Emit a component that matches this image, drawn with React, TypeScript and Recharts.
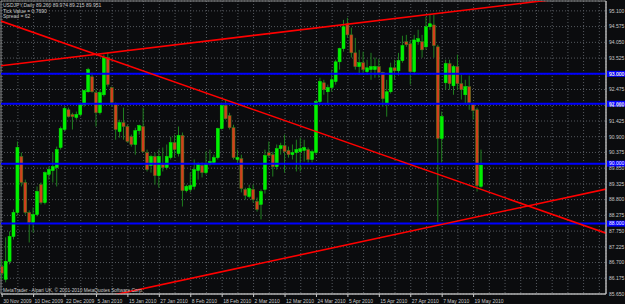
import React from "react";
import {
  ComposedChart, Bar, XAxis, YAxis, CartesianGrid, ReferenceLine, ReferenceArea,
} from "recharts";

// USDJPY daily, one entry per bar
const opens = [
  86.57, 86.14, 86.74, 87.57, 88.37, 90.24, 89.37, 88.37, 88.04, 88.30,
  89.30, 88.70, 89.64, 89.77, 89.87, 90.54, 91.14, 91.80, 91.64, 91.54,
  91.64, 91.97, 92.40, 92.90, 92.37, 91.70, 92.30, 93.54, 92.54, 91.97,
  91.07, 91.37, 91.24, 90.90, 90.64, 91.10, 91.24, 90.37, 89.94, 90.24,
  89.60, 89.97, 89.87, 90.20, 90.70, 90.34, 90.94, 89.10, 89.14, 89.24,
  89.77, 89.94, 89.70, 90.00, 90.04, 90.20, 91.17, 91.94, 91.60, 91.20,
  90.14, 90.17, 89.14, 88.90, 89.14, 88.74, 88.64, 89.14, 90.37, 90.30,
  89.90, 90.50, 90.60, 90.44, 90.30, 90.37, 90.40, 90.44, 90.47, 90.14,
  90.37, 92.07, 92.70, 92.40, 92.54, 92.74, 93.40, 93.84, 94.67, 94.30,
  93.70, 93.24, 93.37, 93.07, 93.14, 93.14, 93.24, 93.04, 92.00, 92.40,
  93.20, 93.10, 93.44, 94.07, 94.00, 93.07, 94.07, 94.07, 93.90, 94.57,
  94.63, 93.90, 90.84, 92.70, 93.34, 92.60, 93.24, 92.67, 92.30, 92.57,
  91.97, 91.80, 89.24,
];
const highs = [
  86.80, 87.54, 87.74, 88.47, 90.74, 90.37, 89.47, 88.44, 88.54, 89.24,
  89.37, 89.74, 89.90, 90.37, 90.57, 91.24, 91.90, 91.87, 91.70, 91.74,
  92.04, 92.47, 93.20, 93.04, 92.47, 92.47, 93.64, 93.70, 92.57, 92.04,
  91.47, 91.87, 91.30, 90.97, 91.20, 91.30, 91.87, 90.47, 90.30, 90.37,
  90.47, 90.54, 90.64, 90.90, 90.97, 91.24, 91.04, 89.30, 89.70, 90.14,
  90.04, 90.04, 90.40, 90.47, 90.30, 91.20, 92.04, 92.14, 91.70, 91.30,
  90.47, 90.30, 89.20, 89.30, 89.30, 88.87, 89.14, 90.47, 90.74, 90.40,
  90.64, 90.70, 90.97, 90.57, 90.64, 90.80, 90.87, 90.80, 90.54, 90.47,
  92.14, 92.87, 92.80, 92.64, 93.14, 93.47, 93.87, 94.80, 94.87, 94.54,
  94.20, 93.80, 93.74, 93.47, 93.70, 93.54, 93.50, 93.07, 92.80, 93.37,
  93.47, 93.70, 94.27, 94.30, 94.13, 94.30, 94.47, 94.30, 94.90, 94.97,
  94.97, 93.97, 91.74, 93.47, 93.47, 93.30, 93.64, 92.97, 92.80, 92.94,
  92.04, 91.87, 90.47,
];
const lows = [
  86.14, 86.04, 86.64, 87.47, 88.27, 89.24, 88.30, 87.37, 87.70, 88.24,
  88.64, 88.64, 89.47, 89.37, 89.24, 90.47, 91.07, 91.54, 91.14, 91.47,
  91.57, 91.90, 92.37, 92.37, 91.24, 91.64, 92.24, 92.57, 91.90, 90.80,
  90.87, 90.80, 90.70, 90.57, 90.30, 90.97, 90.37, 89.74, 89.70, 89.30,
  89.20, 89.74, 89.80, 90.14, 90.20, 90.24, 88.57, 89.04, 89.04, 89.14,
  89.47, 89.54, 89.64, 89.94, 89.97, 90.14, 91.14, 91.47, 91.14, 90.14,
  89.97, 89.04, 88.80, 88.84, 88.70, 88.40, 88.14, 89.00, 90.20, 89.57,
  89.80, 90.30, 89.70, 90.20, 90.14, 89.74, 89.74, 90.07, 90.04, 90.04,
  90.30, 91.97, 92.30, 91.97, 92.40, 92.64, 93.14, 93.74, 94.20, 93.54,
  93.14, 92.97, 92.97, 92.97, 92.80, 92.87, 92.87, 91.90, 91.57, 92.34,
  92.80, 92.94, 93.37, 93.90, 92.64, 92.97, 93.97, 93.54, 93.80, 94.47,
  93.54, 88.04, 90.04, 92.47, 92.47, 92.30, 92.47, 92.14, 91.97, 91.80,
  91.47, 89.07, 89.20,
];
const closes = [
  86.34, 86.74, 87.57, 88.37, 90.54, 89.37, 88.37, 88.04, 88.30, 89.07,
  88.70, 89.70, 89.80, 89.90, 90.47, 91.17, 91.84, 91.57, 91.57, 91.64,
  91.97, 92.44, 93.14, 92.40, 91.70, 92.37, 93.54, 92.64, 92.04, 91.14,
  91.37, 91.24, 90.74, 90.64, 91.10, 91.27, 90.40, 89.80, 90.24, 89.60,
  90.24, 89.87, 90.24, 90.70, 90.47, 90.94, 89.10, 89.24, 89.27, 89.80,
  89.97, 89.70, 89.97, 90.07, 90.20, 91.17, 91.94, 91.50, 91.20, 90.20,
  90.20, 89.17, 88.94, 89.17, 88.80, 88.47, 89.07, 90.27, 90.27, 89.90,
  90.50, 90.60, 90.40, 90.30, 90.37, 90.47, 90.50, 90.54, 90.14, 90.40,
  92.07, 92.74, 92.47, 92.54, 92.80, 93.40, 93.84, 94.57, 94.30, 93.70,
  93.24, 93.37, 93.14, 93.20, 93.24, 93.24, 93.04, 92.17, 92.40, 93.20,
  93.10, 93.44, 93.94, 93.97, 93.07, 94.13, 94.17, 93.80, 94.57, 94.67,
  93.94, 90.84, 91.57, 93.34, 92.67, 93.24, 92.67, 92.47, 92.57, 92.04,
  91.77, 89.27, 89.95,
];

// one label every 8 bars
const dateLabels = [
  "30 Nov 2009", "10 Dec 2009", "22 Dec 2009", "5 Jan 2010", "15 Jan 2010",
  "27 Jan 2010", "8 Feb 2010", "18 Feb 2010", "2 Mar 2010", "12 Mar 2010",
  "24 Mar 2010", "5 Apr 2010", "15 Apr 2010", "27 Apr 2010", "7 May 2010",
  "19 May 2010",
];
const priceTicks = [
  85.65, 86.175, 86.7, 87.225, 87.75, 88.275, 88.8, 89.325, 89.85, 90.375,
  90.9, 91.425, 91.95, 92.475, 93.0, 93.525, 94.05, 94.575, 95.1,
];
const levels = [93.0, 92.0, 90.0, 88.0];
// [barIndex, price] end points of the drawn trend lines
const trendLines = [
  [[-0.3, 93.27], [153.7, 95.69]],
  [[-0.3, 94.76], [153.7, 87.68]],
  [[-0.3, 84.81], [153.7, 89.15]],
];
const header = ["USDJPY,Daily  89.260 89.974 89.215 89.951", "Tick Value = 0.7690", "Spread = 62"];
const copyright = "MetaTrader - Alpari UK, © 2001-2010 MetaQuotes Software Corp.";

const X_DOMAIN: [number, number] = [-0.3, 153.7];
const Y_DOMAIN: [number, number] = [85.65, 95.43];
const gridTicks = Array.from({ length: 39 }, (_, k) => k * 4);
const FONT = "'Liberation Sans', Arial, sans-serif";
const TEXT = "#c8c8c8";

const bars = opens.map((o, i) => ({ i, open: o, high: highs[i], low: lows[i], close: closes[i] }));

function Candle(props: any) {
  const { x, y, width, height, payload } = props;
  if (!payload || x == null) return null;
  const { open, high, low, close } = payload;
  const cx = x + width / 2;
  const top = Math.min(y, y + height);
  const h = Math.abs(height);
  const k = high > low ? h / (high - low) : 0;
  const py = (p: number) => top + (high - p) * k;
  const bull = close >= open;
  const bodyTop = py(Math.max(open, close));
  const bodyH = Math.max(1, Math.abs(py(open) - py(close)));
  return (
    <g>
      <line x1={cx} x2={cx} y1={top} y2={top + h} stroke="#1f7f1f" strokeWidth={1} />
      <rect
        x={cx - 1.5} y={bodyTop} width={3} height={bodyH}
        fill={bull ? "#00f000" : "#d2401c"}
        stroke={bull ? "#00f000" : "#3d7d1d"} strokeWidth={0.5}
      />
    </g>
  );
}

function DateTick(props: any) {
  const { x, y, payload } = props;
  const v = payload.value;
  if (v % 8 !== 0) return null;
  const label = dateLabels[v / 8];
  if (!label) return null;
  return (
    <g>
      <line x1={x} x2={x} y1={y} y2={y + 3} stroke={TEXT} strokeWidth={1} />
      <text x={x + 1} y={y + 8.5} fontSize={5} fontFamily={FONT} fill={TEXT}>{label}</text>
    </g>
  );
}

function PriceTick(props: any) {
  const { x, y, payload } = props;
  return (
    <text x={x + 3} y={y + 1.8} fontSize={5} fontFamily={FONT} fill={TEXT}>
      {payload.value.toFixed(3)}
    </text>
  );
}

function LevelTag(props: any) {
  const { viewBox, text } = props;
  if (!viewBox) return null;
  const x = viewBox.x + viewBox.width;
  const y = viewBox.y;
  return (
    <g>
      <rect x={x + 1} y={y - 3} width={18} height={6} fill="#0000ff" />
      <text x={x + 3} y={y + 1.8} fontSize={5} fontFamily={FONT} fill="#ffffff">{text}</text>
    </g>
  );
}

export default function App() {
  return (
    <div style={{ position: "relative", width: 625, height: 304, background: "#0b0c0e" }}>
      <style>{"body{margin:0}"}</style>
      <ComposedChart width={625} height={304} data={bars} margin={{ top: 1, right: 0, left: 1, bottom: 0 }}>
        <CartesianGrid stroke="#55595f" strokeDasharray="1 2" />
        <XAxis
          type="number" dataKey="i" domain={X_DOMAIN} allowDataOverflow ticks={gridTicks} interval={0}
          tick={<DateTick />} tickLine={false} tickSize={0} tickMargin={0} height={10}
          axisLine={{ stroke: TEXT }}
        />
        <YAxis
          orientation="right" domain={Y_DOMAIN} allowDataOverflow ticks={priceTicks} interval={0}
          tick={<PriceTick />} tickLine={false} tickSize={0} tickMargin={0} width={19}
          axisLine={{ stroke: TEXT }}
        />
        <ReferenceArea
          x1={X_DOMAIN[0]} x2={X_DOMAIN[1]} y1={Y_DOMAIN[0]} y2={Y_DOMAIN[1]}
          fill="none" stroke="#8a8a8a" strokeWidth={1} fillOpacity={0}
        />
        <Bar
          dataKey={(d: any) => [d.low, d.high]} barSize={3} shape={<Candle />}
          isAnimationActive={false}
        />
        {levels.map((lv) => (
          <ReferenceLine
            key={lv} y={lv} stroke="#0000ff" strokeWidth={2}
            label={<LevelTag text={lv.toFixed(3)} />}
          />
        ))}
        {trendLines.map((seg, k) => (
          <ReferenceLine
            key={"t" + k}
            segment={[{ x: seg[0][0], y: seg[0][1] }, { x: seg[1][0], y: seg[1][1] }]}
            stroke="#ff0000" strokeWidth={1.6} ifOverflow="hidden"
          />
        ))}
      </ComposedChart>
      <svg width={625} height={304} style={{ position: "absolute", left: 0, top: 0, pointerEvents: "none" }}>
        {header.map((t, k) => (
          <text key={k} x={3} y={7 + k * 5.5} fontSize={5} fontFamily={FONT} fill={TEXT}>{t}</text>
        ))}
        <text x={3} y={292} fontSize={4.8} fontFamily={FONT} fill={TEXT}>{copyright}</text>
      </svg>
    </div>
  );
}
